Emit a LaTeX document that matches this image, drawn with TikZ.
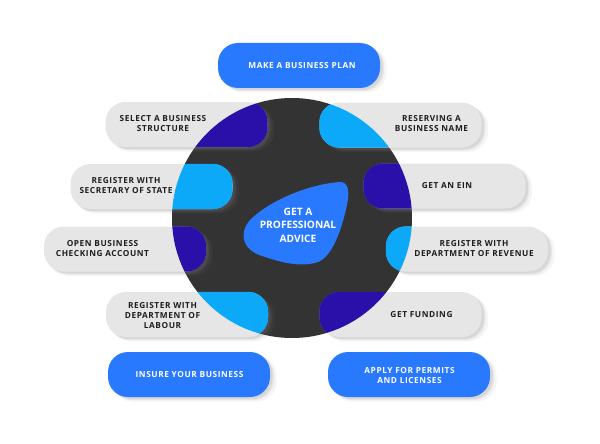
\documentclass[tikz,border=0pt]{standalone}
\usepackage{fontspec}
\setmainfont{Open Sans}
\newfontfamily\cardfont{Open Sans}[LetterSpace=7]
\usetikzlibrary{shadows}

\definecolor{hubgray}{HTML}{333333}
\definecolor{cardgray}{HTML}{E6E6E6}
\definecolor{cardblue}{HTML}{2979FF}
\definecolor{deepblue}{HTML}{2A10A8}
\definecolor{skyblue}{HTML}{0CA9F8}
\definecolor{inktext}{HTML}{1E1E1E}

\begin{document}
\begin{tikzpicture}[
    x=1pt, y=-1pt,
    card/.style={rectangle, rounded corners=20pt, minimum width=162pt,
        minimum height=45pt, inner sep=0pt,
        drop shadow={opacity=0.08, shadow xshift=5pt, shadow yshift=-4pt, shadow scale=1.02},
        drop shadow={opacity=0.12, shadow xshift=4pt, shadow yshift=-3pt},
        drop shadow={opacity=0.15, shadow xshift=2.5pt, shadow yshift=-2pt}},
    graycard/.style={card, fill=cardgray},
    bluecard/.style={card, fill=cardblue},
    cardtext/.style={align=center, inner sep=0pt, text=inktext,
        font=\cardfont\bfseries\fontsize{8.3}{10}\selectfont},
    whitetext/.style={cardtext, text=white}
]
    \useasboundingbox (0,0) rectangle (600,444);

    % hub
    \fill[hubgray] (292,218) circle[radius=120pt];

    % cards
    \node[bluecard] (plan) at (299,65.5) {};
    \node[graycard] (structure) at (186.5,124.5) {};
    \node[graycard] (name) at (400.5,125) {};
    \node[graycard] (secretary) at (151.5,186.5) {};
    \node[graycard] (ein) at (444.5,186) {};
    \node[graycard] (checking) at (125,249) {};
    \node[graycard] (revenue) at (467,249) {};
    \node[graycard] (labour) at (187,314.5) {};
    \node[graycard] (funding) at (400.5,314.5) {};
    \node[bluecard] (insure) at (189,374.5) {};
    \node[bluecard] (permits) at (409,374.5) {};

    % parts of the cards over the hub
    \begin{scope}
        \clip (292,218) circle[radius=120pt];
        \fill[deepblue, rounded corners=20pt] (structure.south west) rectangle (structure.north east);
        \fill[skyblue, rounded corners=20pt] (name.south west) rectangle (name.north east);
        \fill[skyblue, rounded corners=20pt] (secretary.south west) rectangle (secretary.north east);
        \fill[deepblue, rounded corners=20pt] (ein.south west) rectangle (ein.north east);
        \fill[deepblue, rounded corners=20pt] (checking.south west) rectangle (checking.north east);
        \fill[skyblue, rounded corners=20pt] (revenue.south west) rectangle (revenue.north east);
        \fill[skyblue, rounded corners=20pt] (labour.south west) rectangle (labour.north east);
        \fill[deepblue, rounded corners=20pt] (funding.south west) rectangle (funding.north east);
    \end{scope}

    % advice blob
    \fill[cardblue] (340,182) .. controls (310,184) and (270,200) .. (250,220)
        .. controls (238,234) and (243,250) .. (262,256)
        .. controls (280,262) and (300,268) .. (318,262)
        .. controls (333,256) and (342,228) .. (347,205)
        .. controls (350,190) and (348,182) .. (340,182) -- cycle;
    \node[align=center, text=white, font=\bfseries\fontsize{10.2}{13.5}\selectfont]
        (advice) at (298,225) {GET A\\PROFESSIONAL\\ADVICE};

    % labels
    \node[whitetext] (planT) at (302,65.5) {MAKE A BUSINESS PLAN};
    \node[cardtext] (structureT) at (163,124) {SELECT A BUSINESS\\STRUCTURE};
    \node[cardtext] (nameT) at (431.5,124) {RESERVING A\\BUSINESS NAME};
    \node[cardtext] (secretaryT) at (126,186) {REGISTER WITH\\SECRETARY OF STATE};
    \node[cardtext] (einT) at (447,186) {GET AN EIN};
    \node[cardtext] (checkingT) at (102.5,249) {OPEN BUSINESS\\CHECKING ACCOUNT};
    \node[cardtext] (revenueT) at (474,249) {REGISTER WITH\\DEPARTMENT OF REVENUE};
    \node[cardtext] (labourT) at (162.5,316) {REGISTER WITH\\DEPARTMENT OF\\LABOUR};
    \node[cardtext] (fundingT) at (421.5,314.5) {GET FUNDING};
    \node[whitetext] (insureT) at (189.5,375) {INSURE YOUR BUSINESS};
    \node[whitetext] (permitsT) at (409.5,376) {APPLY FOR PERMITS\\AND LICENSES};
\end{tikzpicture}
\end{document}
